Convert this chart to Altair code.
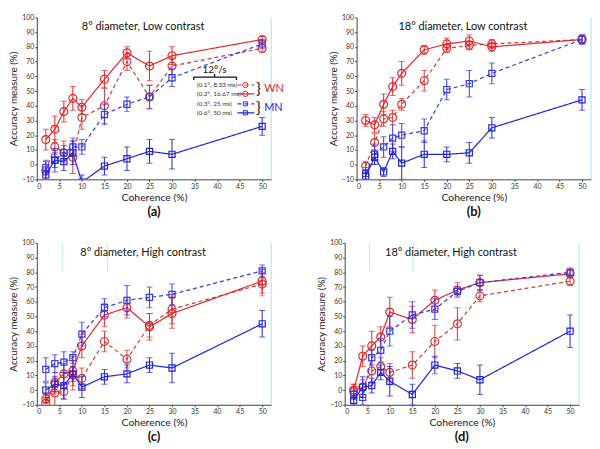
import altair as alt
import pandas as pd

coherence = [2, 4, 6, 8, 10, 15, 20, 25, 30, 50]
series_names = ["(0.1°, 8.33 ms)", "(0.2°, 16.67 ms)", "(0.3°, 25 ms)", "(0.6°, 50 ms)"]

# Panel (a): 8° diameter, Low contrast
a_vals = [
    [-4, 12, 8, 5, 32, 40, 70, 46, 67, 79],
    [17, 24, 36, 45, 39, 58, 76, 67, 74, 85],
    [-2, 3, 8, 12, 12, 34, 41, 46, 59, 82],
    [-7, 3, 2, 8, -12, -1, 4, 9, 7, 26],
]
a_errs = [
    [6, 5, 8, 11, 8, 12, 6, 8, 6, 3],
    [7, 9, 7, 8, 5, 6, 4, 10, 6, 2],
    [5, 8, 5, 6, 5, 7, 5, 8, 6, 3],
    [4, 5, 6, 8, 5, 6, 8, 8, 10, 6],
]
# Panel (b): 18° diameter, Low contrast
b_vals = [
    [-1, 15, 31, 32, 41, 57, 79, 81, 82, 85],
    [30, 27, 41, 53, 62, 78, 82, 84, 80, 85],
    [-6, 7, 12, 18, 20, 23, 51, 55, 62, 85],
    [-8, 5, -5, 9, 1, 7, 7, 8, 25, 44],
]
b_errs = [
    [3, 6, 5, 5, 4, 7, 3, 3, 3, 3],
    [4, 5, 7, 6, 8, 3, 4, 4, 3, 3],
    [4, 7, 7, 9, 8, 8, 7, 9, 7, 3],
    [3, 5, 3, 5, 11, 9, 5, 7, 7, 7],
]
# Panel (c): 8° diameter, High contrast
c_vals = [
    [-6, -2, -1, 10, 8, 33, 21, 44, 55, 72],
    [-9, 5, 11, 13, 30, 51, 56, 43, 52, 74],
    [14, 18, 19, 22, 38, 56, 61, 63, 65, 81],
    [0, 4, 3, 11, 2, 9, 11, 17, 15, 45],
]
c_errs = [
    [3, 10, 5, 10, 7, 7, 6, 8, 10, 8],
    [3, 7, 7, 10, 8, 8, 7, 9, 10, 8],
    [8, 6, 7, 4, 8, 6, 10, 7, 7, 4],
    [5, 5, 9, 5, 7, 5, 6, 5, 10, 9],
]
# Panel (d): 18° diameter, High contrast
d_vals = [
    [-1, 2, 13, 16, 12, 17, 33, 45, 64, 74],
    [0, 23, 30, 36, 53, 48, 61, 68, 73, 79],
    [-3, -5, 22, 27, 40, 51, 55, 67, 73, 80],
    [-7, 2, 3, 12, 6, -3, 17, 13, 7, 40],
]
d_errs = [
    [5, 5, 7, 6, 6, 9, 11, 11, 4, 3],
    [4, 7, 10, 7, 10, 9, 7, 5, 5, 3],
    [3, 5, 5, 8, 10, 9, 7, 3, 5, 3],
    [3, 7, 5, 5, 10, 7, 6, 5, 10, 11],
]

RED = "#e3262b"
RED_D = "#cc3a3a"
BLUE = "#2323d8"
BLUE_D = "#3a3ae0"
styles = [
    dict(color=RED_D, dash=[4, 3], shape="circle", size=64),
    dict(color=RED, dash=[1, 0], shape="circle", size=64),
    dict(color=BLUE_D, dash=[4, 3], shape="square", size=38),
    dict(color=BLUE, dash=[1, 0], shape="square", size=38),
]

W, H = 236, 163
xscale = alt.Scale(domain=[0, 52], nice=False, zero=False)
yscale = alt.Scale(domain=[-10, 100], nice=False, zero=False)
xaxis = alt.Axis(values=list(range(0, 51, 5)), title="Coherence (%)", titlePadding=3)
yaxis = alt.Axis(values=list(range(-10, 101, 10)), title="Accuracy measure (%)", titlePadding=3)

one = pd.DataFrame({"k": [0]})


def panel(vals, errs, title, label, legend=False, artifacts=None):
    layers = []
    for i in range(4):
        st = styles[i]
        df = pd.DataFrame({"x": coherence, "y": vals[i], "err": errs[i]})
        base = alt.Chart(df).transform_calculate(
            lo="datum.y - datum.err", hi="datum.y + datum.err"
        )
        X = alt.X("x:Q", scale=xscale, axis=xaxis)
        layers.append(
            base.mark_rule(color=st["color"], strokeWidth=1, clip=True).encode(
                x=X, y=alt.Y("lo:Q", scale=yscale, axis=yaxis), y2="hi:Q"
            )
        )
        for f in ["lo", "hi"]:
            layers.append(
                base.mark_tick(color=st["color"], orient="horizontal", size=6,
                               thickness=1, clip=True).encode(
                    x=X, y=alt.Y(f + ":Q", scale=yscale, axis=yaxis)
                )
            )
        layers.append(
            base.mark_line(color=st["color"], strokeWidth=1.2, strokeDash=st["dash"],
                           clip=True).encode(
                x=X, y=alt.Y("y:Q", scale=yscale, axis=yaxis)
            )
        )
        layers.append(
            base.mark_point(color=st["color"], shape=st["shape"], size=st["size"],
                            filled=False, strokeWidth=1.2, opacity=1, clip=True).encode(
                x=X, y=alt.Y("y:Q", scale=yscale, axis=yaxis)
            )
        )
    # right edge cyan line
    layers.append(
        alt.Chart(one).mark_rule(color="#a9e3ee", strokeWidth=1).encode(
            x=alt.value(W), y=alt.value(0), y2=alt.value(H)
        )
    )
    if artifacts:
        for ax in artifacts:
            layers.append(
                alt.Chart(one).mark_rule(color="#bdeaf2", strokeWidth=1).encode(
                    x=alt.value(ax), y=alt.value(0), y2=alt.value(29)
                )
            )
    layers.append(
        alt.Chart(one).mark_text(text=title, font="Lato", fontSize=11, color="#111",
                                 align="center", baseline="middle").encode(
            x=alt.value(107), y=alt.value(10)
        )
    )
    if legend:
        layers.append(
            alt.Chart(one).mark_text(text="12°/s", font="Lato", fontSize=10, color="#111",
                                     align="center", baseline="middle").encode(
                x=alt.value(179), y=alt.value(53)
            )
        )
        # horizontal brace
        layers.append(alt.Chart(one).mark_rule(color="#111", strokeWidth=1.3).encode(
            x=alt.value(158), x2=alt.value(201), y=alt.value(60)))
        for bx, y1, y2 in [(158, 60, 63), (201, 60, 63), (179, 57, 60)]:
            layers.append(alt.Chart(one).mark_rule(color="#111", strokeWidth=1.3).encode(
                x=alt.value(bx), y=alt.value(y1), y2=alt.value(y2)))
        for i, name in enumerate(series_names):
            yy = 68 + i * 9 + (1 if i >= 2 else 0)
            st = styles[i]
            layers.append(
                alt.Chart(one).mark_text(text=name, font="Lato", fontSize=6.5, color="#333",
                                         align="left", baseline="middle").encode(
                    x=alt.value(161), y=alt.value(yy)
                )
            )
            layers.append(
                alt.Chart(one).mark_rule(color=st["color"], strokeWidth=1.2,
                                         strokeDash=st["dash"]).encode(
                    x=alt.value(202), x2=alt.value(219), y=alt.value(yy)
                )
            )
            layers.append(
                alt.Chart(one).mark_point(color=st["color"], shape=st["shape"],
                                          size=st["size"] * 0.45, filled=False,
                                          strokeWidth=1, opacity=1).encode(
                    x=alt.value(210), y=alt.value(yy)
                )
            )
        for yy, word, col in [(72, "WN", RED), (91, "MN", BLUE)]:
            layers.append(
                alt.Chart(one).mark_text(text="}", font="Lato", fontSize=15, color="#111",
                                         align="left", baseline="middle").encode(
                    x=alt.value(221), y=alt.value(yy)
                )
            )
            layers.append(
                alt.Chart(one).mark_text(text=word, font="Lato", fontSize=11, color=col,
                                         align="left", baseline="middle").encode(
                    x=alt.value(229), y=alt.value(yy)
                )
            )
    return alt.layer(*layers).properties(
        width=W, height=H,
        title=alt.TitleParams(label, orient="bottom", font="Lato", fontSize=13,
                              fontWeight="bold", color="#111", offset=3),
    )


pa = panel(a_vals, a_errs, "8° diameter, Low contrast", "(a)", legend=True)
pb = panel(b_vals, b_errs, "18° diameter, Low contrast", "(b)")
pc = panel(c_vals, c_errs, "8° diameter, High contrast", "(c)", artifacts=[26, 71])
pd_ = panel(d_vals, d_errs, "18° diameter, High contrast", "(d)", artifacts=[25, 69])

row1 = alt.hconcat(pa, pb, spacing=44)
row2 = alt.hconcat(pc, pd_, spacing=44)
chart = (
    alt.vconcat(row1, row2, spacing=20)
    .properties(padding={"left": 0, "top": 4, "right": 0, "bottom": 0})
    .configure_view(stroke=None)
    .configure_axis(
        labelFont="Lato", labelFontSize=7, labelColor="#333",
        titleFont="Lato", titleFontSize=10, titleFontWeight="normal", titleColor="#222",
        domainColor="#444", tickColor="#444", tickSize=2, labelPadding=1, grid=False,
    )
    .configure_axisX(titleFontSize=10.5)
)

chart.save("out.html", embed_options={"renderer": "svg", "actions": False})
